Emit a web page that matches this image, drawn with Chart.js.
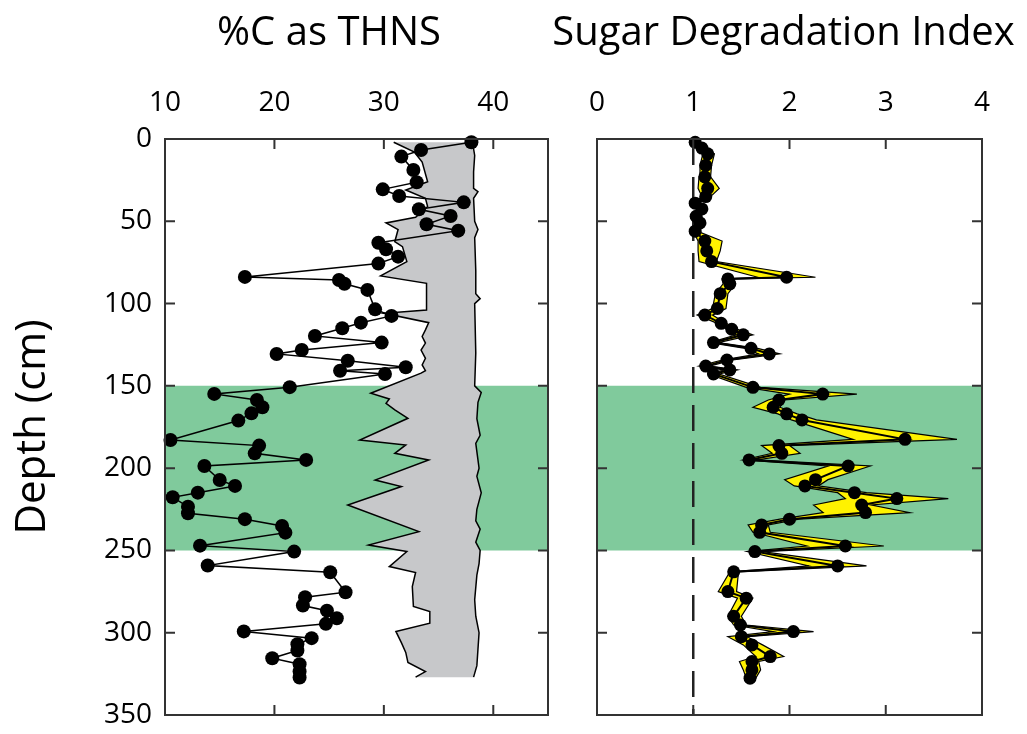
<!DOCTYPE html>
<html>
<head>
<meta charset="utf-8">
<title>%C as THNS / Sugar Degradation Index</title>
<script src="https://cdn.jsdelivr.net/npm/chart.js@4.4.1/dist/chart.umd.min.js"></script>
<style>
  body { margin: 0; background: #fff; }
  #wrap { position: relative; width: 1027px; height: 734px; }
  canvas { position: absolute; top: 0; }
  #carbonChart { left: 0; }
  #sdiChart { left: 540px; }
</style>
</head>
<body>
<div id="wrap">
  <canvas id="carbonChart" width="658" height="734"></canvas>
  <canvas id="sdiChart" width="487" height="734"></canvas>
</div>
<script>
// tick labels
const depthTicks = [0, 50, 100, 150, 200, 250, 300, 350];
const carbonTicks = [10, 20, 30, 40];
const sdiTicks = [0, 1, 2, 3, 4];

// shaded depth interval (cm)
const bandTop = 150;
const bandBottom = 250;

// %C as THNS, measured samples
const carbonDepth = [2, 6.7, 10.7, 18.8, 26.3, 30.6, 34.6, 38.5, 42.7, 46.8, 51.8, 55.7, 63, 67, 71.5, 75.7,
  83.8, 85.7, 88, 91.7, 103.5, 107.5, 111.6, 115, 119.7, 123.7, 128.2, 130.6, 134.7, 138.7, 140.8, 142.8,
  150.8, 154.9, 158.6, 163, 166.7, 171.1, 182.9, 186.3, 191, 195, 198.7, 207.2, 210.8, 214.9, 217.7, 223.4,
  227.4, 231, 235.1, 239.2, 247.1, 250.7, 259.2, 263.3, 275.4, 278.4, 283.5, 286.6, 291.2, 294.6, 299.2,
  303.3, 307, 310.8, 315.5, 319.1, 323.6, 327.2];
const carbonValue = [38.0, 33.4, 31.6, 32.7, 33.0, 29.9, 31.4, 37.3, 33.2, 36.1, 33.9, 36.8, 29.5, 30.2, 31.3, 29.5,
  17.3, 25.9, 26.4, 28.5, 29.2, 30.7, 27.9, 26.2, 23.7, 29.8, 22.5, 20.2, 26.7, 32.0, 26.0, 30.1,
  21.4, 14.5, 18.4, 18.9, 17.9, 16.7, 10.5, 18.6, 18.2, 22.9, 13.6, 15.0, 16.4, 13.0, 10.7, 12.1,
  12.1, 17.3, 20.7, 21.0, 13.2, 21.8, 13.9, 25.1, 26.5, 22.8, 22.6, 24.8, 25.7, 24.7, 17.2,
  23.4, 22.1, 22.1, 19.8, 22.3, 22.3, 22.3];

// grey envelope: left edge
const envLeftDepth = [2, 8, 14, 26, 31, 36, 41, 47.6, 51, 55, 62.4, 65.4, 74.5, 83.2, 87.7, 103.9, 105.9,
  111.6, 116, 120, 124, 128.2, 133.3, 137.3, 140.8, 142.3, 154.5, 158, 160.6, 164.6, 169.7, 182.9, 185.9,
  191, 195, 207.2, 211.2, 222.4, 238.6, 246.7, 250.7, 259.8, 263.4, 272, 284.1, 287.1, 294.2, 299.2, 306,
  312, 318.1, 323.6, 327];
const envLeftValue = [30.9, 32.8, 33.5, 34.0, 32.0, 33.8, 34.0, 32.9, 30.2, 31.3, 31.0, 31.7, 32.1, 29.7, 33.9, 33.9, 30.0,
  34.1, 33.8, 33.5, 33.8, 33.4, 33.8, 33.5, 33.8, 33.4, 28.8, 30.5, 30.2, 31.0, 32.2, 27.8, 32.0,
  31.0, 34.1, 29.2, 31.6, 26.7, 33.2, 28.6, 32.1, 30.5, 32.9, 32.6, 32.7, 34.2, 34.2, 31.1, 31.6,
  32.0, 32.2, 33.8, 32.9];

// grey envelope: right edge
const envRightDepth = [2, 10, 20, 30, 32, 36, 50, 55, 60, 80, 94, 97, 100, 130, 150, 154, 160, 170, 180, 185,
  200, 205, 215, 225, 232, 237, 245, 250, 258, 265, 280, 290, 300, 310, 320, 327];
const envRightValue = [38.1, 38.3, 38.2, 38.2, 38.6, 38.2, 38.3, 38.6, 38.3, 38.4, 38.4, 38.8, 38.3, 38.4, 38.3, 38.9, 38.6, 38.5, 38.8, 38.4,
  38.7, 38.5, 38.9, 38.5, 38.4, 38.8, 38.4, 38.8, 38.7, 38.5, 38.3, 38.4, 38.7, 38.6, 38.5, 38.2];

// Sugar Degradation Index with low/high range
const sdiDepth = [2, 5.5, 9, 16, 23, 30, 35, 39, 42.5, 47, 51, 56, 62, 68, 74.5, 84, 85, 88, 94, 103, 107, 112,
  115.6, 119, 123.7, 127.2, 130.6, 134.3, 138, 140.3, 142.8, 150.9, 155, 158.6, 163, 167, 170.7, 182.5,
  186.3, 191, 195, 198.7, 207, 210.8, 214.9, 218.5, 222.4, 227, 231, 234.5, 239, 247.3, 250.7, 259.4,
  263, 275, 279, 290, 295.3, 299.3, 302.4, 307.4, 314.5, 317.5, 322.6, 327.6];
const sdiValue = [1.02, 1.09, 1.15, 1.13, 1.12, 1.15, 1.13, 1.02, 1.09, 1.03, 1.07, 1.02, 1.12, 1.14, 1.19, 1.97, 1.36, 1.38, 1.28, 1.25, 1.12, 1.29,
  1.40, 1.52, 1.21, 1.60, 1.79, 1.35, 1.13, 1.38, 1.21, 1.62, 2.345, 1.89, 1.83, 1.97, 2.13, 3.20,
  1.89, 1.92, 1.58, 2.61, 2.27, 2.16, 2.675, 3.115, 2.75, 2.79, 2.00, 1.71, 1.69, 2.58, 1.64, 2.50,
  1.42, 1.36, 1.55, 1.42, 1.49, 2.04, 1.50, 1.61, 1.80, 1.61, 1.61, 1.59];
const sdiLow = [1.00, 1.05, 1.10, 1.07, 1.06, 1.05, 1.09, 1.00, 1.06, 1.01, 1.04, 1.00, 1.05, 1.05, 1.06, 1.67, 1.30, 1.31, 1.23, 1.20, 1.04, 1.25,
  1.35, 1.45, 1.17, 1.54, 1.68, 1.30, 1.06, 1.32, 1.16, 1.55, 2.00, 1.78, 1.62, 1.88, 2.02, 2.66,
  1.71, 1.82, 1.52, 2.40, 1.95, 2.05, 2.50, 2.58, 2.25, 2.35, 1.90, 1.57, 1.62, 2.18, 1.56, 2.20,
  1.38, 1.26, 1.46, 1.36, 1.42, 1.83, 1.36, 1.52, 1.65, 1.48, 1.52, 1.55];
const sdiHigh = [1.04, 1.12, 1.22, 1.19, 1.18, 1.27, 1.18, 1.05, 1.12, 1.06, 1.10, 1.04, 1.30, 1.28, 1.24, 2.27, 1.42, 1.44, 1.36, 1.34, 1.20, 1.34,
  1.46, 1.62, 1.26, 1.67, 1.90, 1.41, 1.17, 1.46, 1.27, 1.70, 2.70, 1.95, 1.90, 2.08, 2.28, 3.74,
  2.00, 2.11, 1.66, 2.84, 2.40, 2.30, 2.80, 3.65, 2.85, 3.25, 2.10, 1.78, 1.80, 2.98, 1.72, 2.80,
  1.47, 1.45, 1.62, 1.50, 1.55, 2.25, 1.56, 1.72, 1.94, 1.68, 1.70, 1.65];
const sdiReference = 1;

Chart.defaults.font.family = "'Open Sans', sans-serif";
Chart.defaults.color = '#000';

const toPoints = (values, depths) => values.map((v, i) => ({ x: v, y: depths[i] }));
const bandPoints = (xMin, xMax) => [
  { x: xMin, y: bandTop }, { x: xMax, y: bandTop },
  { x: xMax, y: bandBottom }, { x: xMin, y: bandBottom }
];

// frame box plus inward tick marks on all four sides
const frameTicks = {
  id: 'frameTicks',
  afterDatasetsDraw(chart, args, opts) {
    const { ctx, chartArea: a, scales } = chart;
    ctx.save();
    ctx.strokeStyle = '#333';
    ctx.lineWidth = 2;
    ctx.strokeRect(a.left, a.top, a.right - a.left, a.bottom - a.top);
    ctx.beginPath();
    opts.xTicks.forEach(v => {
      const px = scales.x.getPixelForValue(v);
      if (px > a.left + 1 && px < a.right - 1) {
        ctx.moveTo(px, a.top); ctx.lineTo(px, a.top + 10);
        ctx.moveTo(px, a.bottom); ctx.lineTo(px, a.bottom - 10);
      }
    });
    opts.yTicks.forEach(v => {
      const py = scales.y.getPixelForValue(v);
      if (py > a.top + 1 && py < a.bottom - 1) {
        ctx.moveTo(a.left, py); ctx.lineTo(a.left + 10, py);
        ctx.moveTo(a.right, py); ctx.lineTo(a.right - 10, py);
      }
    });
    ctx.stroke();
    ctx.restore();
  }
};

function depthAxis(showLabels, width) {
  return {
    type: 'linear',
    position: 'left',
    reverse: true,
    min: 0,
    max: 350,
    afterBuildTicks: s => { s.ticks = depthTicks.map(v => ({ value: v })); },
    ticks: { display: showLabels, padding: 13, font: { size: 28 } },
    grid: { display: false, drawTicks: false },
    border: { display: false },
    title: { display: showLabels, text: 'Depth (cm)', font: { size: 42 }, padding: { top: 8, bottom: 0 } },
    afterFit: s => {
      s.width = width;
      // labels may hang over the plot edges; keep plot height fixed
      s.paddingTop = 0;
      s.paddingBottom = 0;
    }
  };
}

function spacerAxis(width) {
  return {
    type: 'linear',
    position: 'right',
    min: 0,
    max: 350,
    ticks: { display: false },
    grid: { display: false, drawTicks: false },
    border: { display: false },
    afterFit: s => { s.width = width; s.paddingTop = 0; s.paddingBottom = 0; }
  };
}

function valueAxis(min, max, tickValues) {
  return {
    type: 'linear',
    position: 'top',
    min: min,
    max: max,
    afterBuildTicks: s => { s.ticks = tickValues.map(v => ({ value: v })); },
    ticks: { padding: 19, font: { size: 28 } },
    grid: { display: false, drawTicks: false },
    border: { display: false },
    afterFit: s => { s.height = 81; s.paddingLeft = 0; s.paddingRight = 0; }
  };
}

function panelOptions(title, xAxis, yAxis, rightWidth, xTicks) {
  return {
    responsive: false,
    animation: false,
    layout: { autoPadding: false, padding: { left: 0, right: 0, top: 0, bottom: 19 } },
    scales: { x: xAxis, y: yAxis, yPad: spacerAxis(rightWidth) },
    plugins: {
      legend: { display: false },
      tooltip: { enabled: false },
      title: {
        display: true,
        text: title,
        font: { size: 40, weight: 'normal' },
        color: '#000',
        padding: { top: 10, bottom: 0 }
      },
      frameTicks: { xTicks: xTicks, yTicks: depthTicks }
    }
  };
}

// left panel: %C as THNS
new Chart(document.getElementById('carbonChart').getContext('2d'), {
  type: 'line',
  data: {
    datasets: [
      {
        data: bandPoints(10, 45),
        fill: 'shape',
        backgroundColor: '#80ca9c',
        borderWidth: 0,
        pointRadius: 0,
        order: 5
      },
      {
        data: toPoints(envLeftValue, envLeftDepth).concat(toPoints(envRightValue, envRightDepth).reverse()),
        fill: 'shape',
        backgroundColor: '#c7c8ca',
        borderWidth: 0,
        pointRadius: 0,
        order: 4
      },
      {
        data: toPoints(envLeftValue, envLeftDepth),
        borderColor: '#000',
        borderWidth: 1.5,
        pointRadius: 0,
        fill: false,
        order: 3
      },
      {
        data: toPoints(envRightValue, envRightDepth),
        borderColor: '#000',
        borderWidth: 1.5,
        pointRadius: 0,
        fill: false,
        order: 3
      },
      {
        data: toPoints(carbonValue, carbonDepth),
        borderColor: '#000',
        borderWidth: 1.5,
        pointRadius: 7,
        pointBackgroundColor: '#000',
        pointBorderWidth: 0,
        fill: false,
        clip: false,
        order: 1
      }
    ]
  },
  options: panelOptions('%C as THNS', valueAxis(10, 45, carbonTicks), depthAxis(true, 165), 110, carbonTicks),
  plugins: [frameTicks]
});

// right panel: Sugar Degradation Index
new Chart(document.getElementById('sdiChart').getContext('2d'), {
  type: 'line',
  data: {
    datasets: [
      {
        data: bandPoints(0, 4),
        fill: 'shape',
        backgroundColor: '#80ca9c',
        borderWidth: 0,
        pointRadius: 0,
        order: 5
      },
      {
        data: [{ x: sdiReference, y: 0 }, { x: sdiReference, y: 350 }],
        borderColor: '#222',
        borderWidth: 2.5,
        borderDash: [26, 12],
        pointRadius: 0,
        fill: false,
        order: 3
      },
      {
        data: toPoints(sdiHigh, sdiDepth).concat(toPoints(sdiLow, sdiDepth).reverse()),
        fill: 'shape',
        backgroundColor: '#fff200',
        borderColor: '#000',
        borderWidth: 1.2,
        pointRadius: 0,
        order: 2
      },
      {
        data: toPoints(sdiValue, sdiDepth),
        borderColor: '#000',
        borderWidth: 2,
        pointRadius: 6.5,
        pointBackgroundColor: '#000',
        pointBorderWidth: 0,
        fill: false,
        clip: false,
        order: 1
      }
    ]
  },
  options: panelOptions('Sugar Degradation Index', valueAxis(0, 4, sdiTicks), depthAxis(false, 57), 45, sdiTicks),
  plugins: [frameTicks]
});
</script>
</body>
</html>
